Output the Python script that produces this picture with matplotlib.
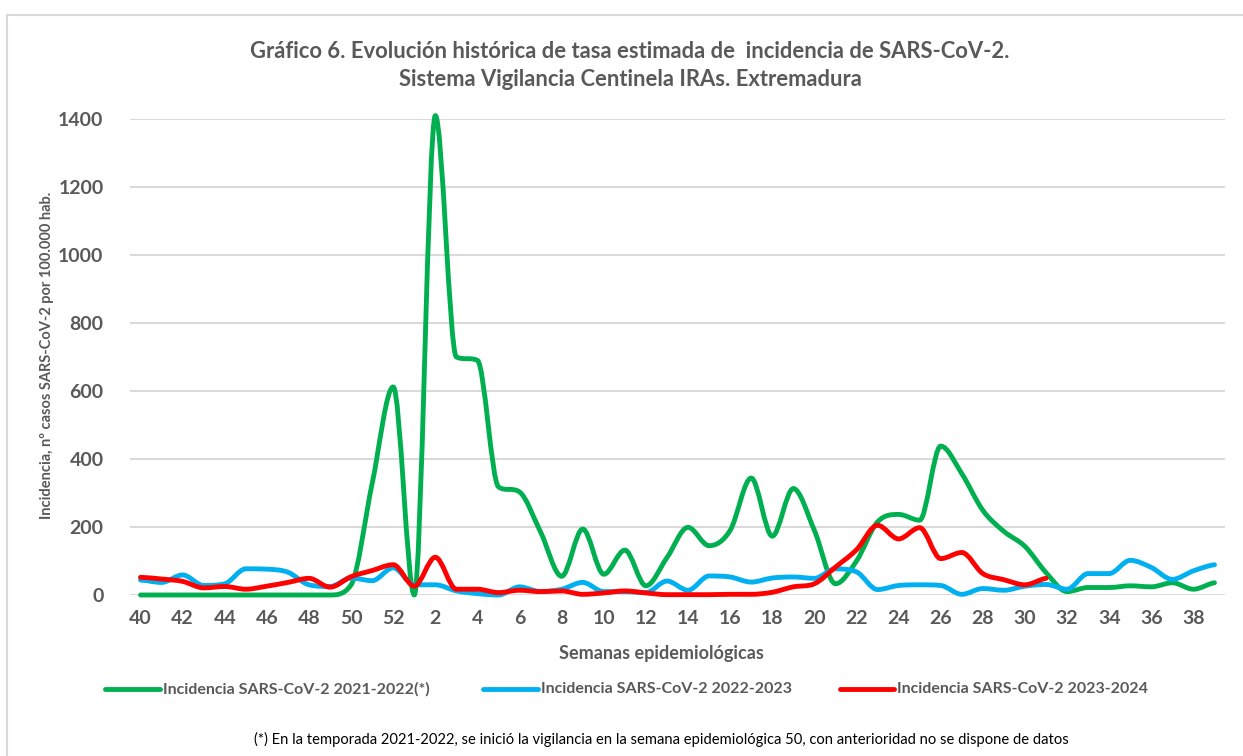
import numpy as np
import matplotlib
matplotlib.use("Agg")
import matplotlib.pyplot as plt
from matplotlib.path import Path
from matplotlib.patches import PathPatch, Rectangle
from matplotlib.lines import Line2D

plt.rcParams['font.family'] = ['Lato', 'DejaVu Sans']

weeks = list(range(40, 53)) + list(range(1, 40))

s2122 = [0, 0, 0, 0, 0, 0, 0, 0, 0, 0, 30, 328, 612,
         0, 1410, 700, 690, 318, 303, 185, 55, 194, 61, 132, 27, 110,
         199, 145, 190, 344, 173, 313, 190, 33, 100, 215, 237, 220, 438,
         357, 249, 187, 143, 66, 10, 22, 22, 27, 24, 36, 17, 36]

s2223 = [44, 37, 59, 28, 33, 77, 76, 67, 30, 25, 50, 42, 80,
         30, 30, 12, 4, 0, 24, 10, 17, 37, 10, 10, 7, 41,
         14, 56, 53, 38, 50, 53, 49, 77, 68, 16, 28, 30, 28,
         2, 19, 14, 26, 31, 17, 63, 63, 102, 81, 46, 71, 89]

s2324 = [52, 47, 40, 21, 25, 17, 26, 37, 49, 23, 54, 72, 89,
         26, 111, 17, 17, 7, 14, 10, 12, 2, 6, 12, 6, 1,
         1, 1, 2, 2, 8, 24, 33, 82, 133, 205, 165, 198, 107,
         125, 63, 45, 30, 49] + [np.nan] * 8

series = [
    ("Incidencia SARS-CoV-2 2021-2022(*)", s2122, "#00B050"),
    ("Incidencia SARS-CoV-2 2022-2023", s2223, "#00B0F0"),
    ("Incidencia SARS-CoV-2 2023-2024", s2324, "#FF0000"),
]

W, H = 1243, 756
fig = plt.figure(figsize=(W / 100, H / 100), dpi=100)
fig.patch.set_facecolor("white")

# chart border
fig.add_artist(Rectangle((7 / W, -0.05), 1.2, 1 - 15 / H + 0.05, transform=fig.transFigure,
                         fill=False, edgecolor="#d9d9d9", lw=1.5))

left, right = 130 / W, 1225 / W
bottom, top = 1 - 595 / H, 1 - 119 / H
ax = fig.add_axes([left, bottom, right - left, top - bottom])
ax.set_xlim(-0.5, len(weeks) - 0.5)
ax.set_ylim(0, 1400)
for sp in ax.spines.values():
    sp.set_visible(False)
ax.set_yticks(range(0, 1401, 200))
ax.yaxis.grid(True, color="#d9d9d9", lw=1.4)
ax.set_axisbelow(True)
ax.tick_params(length=0)
ax.tick_params(axis='y', pad=19)
ax.tick_params(axis='x', pad=11)
idx = np.arange(len(weeks))
ax.set_xticks(idx[::2])
ax.set_xticklabels([str(w) for w in weeks[::2]])
for lab in ax.get_xticklabels() + ax.get_yticklabels():
    lab.set_fontsize(14)
    lab.set_fontweight("bold")
    lab.set_color("#595959")

clip = Rectangle((0, -0.01), 1, 1.05, transform=ax.transAxes, facecolor="none", edgecolor="none")
ax.add_patch(clip)


def smooth_path(x, y):
    x = np.asarray(x, dtype=float)
    y = np.asarray(y, dtype=float)
    n = len(x)
    d = np.diff(y) / np.diff(x)
    m = np.zeros(n)
    for i in range(n):
        if i == 0:
            m[i] = d[0] / 2
        elif i == n - 1:
            m[i] = d[-1] / 2
        else:
            if d[i - 1] * d[i] <= 0:
                m[i] = 0.0
            else:
                cr = (d[i - 1] + d[i]) / 2
                lim = 3 * min(abs(d[i - 1]), abs(d[i]))
                m[i] = np.sign(cr) * min(abs(cr), lim)
    verts = [(x[0], y[0])]
    codes = [Path.MOVETO]
    for i in range(n - 1):
        h = x[i + 1] - x[i]
        verts += [(x[i] + h / 3, y[i] + m[i] * h / 3),
                  (x[i + 1] - h / 3, y[i + 1] - m[i + 1] * h / 3),
                  (x[i + 1], y[i + 1])]
        codes += [Path.CURVE4] * 3
    return Path(verts, codes)


for name, vals, col in series:
    v = np.array(vals, dtype=float)
    ok = ~np.isnan(v)
    p = smooth_path(idx[ok], v[ok])
    patch = PathPatch(p, facecolor="none", edgecolor=col, lw=3.5,
                      capstyle="round", joinstyle="round")
    ax.add_patch(patch)
    patch.set_clip_path(clip)

fig.text(0.507, 1 - 52 / H, "Gráfico 6. Evolución histórica de tasa estimada de  incidencia de SARS-CoV-2.",
         ha="center", va="center", fontsize=15.8, fontweight="bold", color="#595959")
fig.text(0.507, 1 - 80 / H, "Sistema Vigilancia Centinela IRAs. Extremadura",
         ha="center", va="center", fontsize=15.8, fontweight="bold", color="#595959")

fig.text(47 / W, 1 - 355 / H, "Incidencia, nº casos SARS-CoV-2 por 100.000 hab.",
         rotation=90, ha="center", va="center", fontsize=10.5, fontweight="bold", color="#595959")
fig.text(661 / W, 1 - 654 / H, "Semanas epidemiológicas",
         ha="center", va="center", fontsize=13, fontweight="bold", color="#595959")

leg = [(105, 160, 163), (483, 538, 541), (840, 894, 897)]
for (x0, x1, xt), (name, vals, col) in zip(leg, series):
    y = 1 - 689 / H
    fig.add_artist(Line2D([x0 / W, x1 / W], [y, y], transform=fig.transFigure,
                          color=col, lw=3.5, solid_capstyle="round"))
    fig.text(xt / W, y, name, ha="left", va="center", fontsize=11.5,
             fontweight="bold", color="#595959")

fig.text(661 / W, 1 - 739 / H,
         "(*) En la temporada 2021-2022, se inició la vigilancia en la semana epidemiológica 50, con anterioridad no se dispone de datos",
         ha="center", va="center", fontsize=10.6, color="#000000")

fig.savefig("out.png", dpi=100, facecolor="white")
